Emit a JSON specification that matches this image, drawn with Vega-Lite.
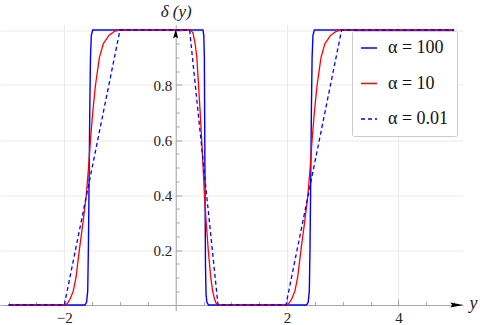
{
  "$schema": "https://vega.github.io/schema/vega-lite/v6.json",
  "autosize": {"type": "none"},
  "width": 463,
  "height": 286,
  "padding": {"left": 0, "top": 24.5, "right": 17, "bottom": 14.5},
  "background": "white",
  "config": {"view": {"stroke": null}, "font": "Liberation Serif, Times New Roman, serif"},
  "datasets": {
    "blue": [
      {"x": -3, "y": 0, "s": "α = 100"}, {"x": -1.63, "y": 0, "s": "α = 100"}, {"x": -1.6, "y": 0.01, "s": "α = 100"},
      {"x": -1.58, "y": 0.05, "s": "α = 100"}, {"x": -1.568, "y": 0.2, "s": "α = 100"}, {"x": -1.555, "y": 0.45, "s": "α = 100"},
      {"x": -1.542, "y": 0.72, "s": "α = 100"}, {"x": -1.53, "y": 0.9, "s": "α = 100"}, {"x": -1.515, "y": 0.98, "s": "α = 100"},
      {"x": -1.49, "y": 1, "s": "α = 100"}, {"x": 0.49, "y": 1, "s": "α = 100"}, {"x": 0.505, "y": 0.98, "s": "α = 100"},
      {"x": 0.515, "y": 0.9, "s": "α = 100"}, {"x": 0.525, "y": 0.5, "s": "α = 100"}, {"x": 0.535, "y": 0.15, "s": "α = 100"},
      {"x": 0.545, "y": 0.04, "s": "α = 100"}, {"x": 0.56, "y": 0.01, "s": "α = 100"}, {"x": 0.59, "y": 0, "s": "α = 100"},
      {"x": 2.35, "y": 0, "s": "α = 100"}, {"x": 2.38, "y": 0.01, "s": "α = 100"}, {"x": 2.4, "y": 0.05, "s": "α = 100"},
      {"x": 2.412, "y": 0.2, "s": "α = 100"}, {"x": 2.425, "y": 0.45, "s": "α = 100"}, {"x": 2.438, "y": 0.72, "s": "α = 100"},
      {"x": 2.45, "y": 0.9, "s": "α = 100"}, {"x": 2.465, "y": 0.98, "s": "α = 100"}, {"x": 2.49, "y": 1, "s": "α = 100"},
      {"x": 5, "y": 1, "s": "α = 100"}
    ],
    "red": [
      {"x": -3, "y": 0, "s": "α = 10"}, {"x": -2, "y": 0, "s": "α = 10"}, {"x": -1.95, "y": 0.005, "s": "α = 10"},
      {"x": -1.9, "y": 0.02, "s": "α = 10"}, {"x": -1.84, "y": 0.05, "s": "α = 10"}, {"x": -1.79, "y": 0.1, "s": "α = 10"},
      {"x": -1.73, "y": 0.2, "s": "α = 10"}, {"x": -1.665, "y": 0.3, "s": "α = 10"}, {"x": -1.605, "y": 0.4, "s": "α = 10"},
      {"x": -1.565, "y": 0.5, "s": "α = 10"}, {"x": -1.53, "y": 0.6, "s": "α = 10"}, {"x": -1.49, "y": 0.7, "s": "α = 10"},
      {"x": -1.44, "y": 0.8, "s": "α = 10"}, {"x": -1.37, "y": 0.9, "s": "α = 10"}, {"x": -1.3, "y": 0.95, "s": "α = 10"},
      {"x": -1.2, "y": 0.98, "s": "α = 10"}, {"x": -1.1, "y": 0.995, "s": "α = 10"}, {"x": -1.0, "y": 1, "s": "α = 10"},
      {"x": 0.26, "y": 1, "s": "α = 10"}, {"x": 0.31, "y": 0.99, "s": "α = 10"}, {"x": 0.35, "y": 0.95, "s": "α = 10"},
      {"x": 0.38, "y": 0.9, "s": "α = 10"}, {"x": 0.41, "y": 0.8, "s": "α = 10"}, {"x": 0.44, "y": 0.7, "s": "α = 10"},
      {"x": 0.467, "y": 0.6, "s": "α = 10"}, {"x": 0.492, "y": 0.5, "s": "α = 10"}, {"x": 0.517, "y": 0.4, "s": "α = 10"},
      {"x": 0.548, "y": 0.3, "s": "α = 10"}, {"x": 0.585, "y": 0.2, "s": "α = 10"}, {"x": 0.63, "y": 0.1, "s": "α = 10"},
      {"x": 0.665, "y": 0.05, "s": "α = 10"}, {"x": 0.7, "y": 0.02, "s": "α = 10"}, {"x": 0.73, "y": 0.005, "s": "α = 10"},
      {"x": 0.76, "y": 0, "s": "α = 10"}, {"x": 1.98, "y": 0, "s": "α = 10"}, {"x": 2.03, "y": 0.005, "s": "α = 10"},
      {"x": 2.08, "y": 0.02, "s": "α = 10"}, {"x": 2.14, "y": 0.05, "s": "α = 10"}, {"x": 2.19, "y": 0.1, "s": "α = 10"},
      {"x": 2.25, "y": 0.2, "s": "α = 10"}, {"x": 2.315, "y": 0.3, "s": "α = 10"}, {"x": 2.375, "y": 0.4, "s": "α = 10"},
      {"x": 2.415, "y": 0.5, "s": "α = 10"}, {"x": 2.45, "y": 0.6, "s": "α = 10"}, {"x": 2.49, "y": 0.7, "s": "α = 10"},
      {"x": 2.54, "y": 0.8, "s": "α = 10"}, {"x": 2.61, "y": 0.9, "s": "α = 10"}, {"x": 2.68, "y": 0.95, "s": "α = 10"},
      {"x": 2.78, "y": 0.98, "s": "α = 10"}, {"x": 2.88, "y": 0.995, "s": "α = 10"}, {"x": 2.98, "y": 1, "s": "α = 10"},
      {"x": 5, "y": 1, "s": "α = 10"}
    ],
    "dashed": [
      {"x": -3, "y": 0, "s": "α = 0.01"}, {"x": -2, "y": 0, "s": "α = 0.01"}, {"x": -1, "y": 1, "s": "α = 0.01"},
      {"x": 0.25, "y": 1, "s": "α = 0.01"}, {"x": 0.76, "y": 0, "s": "α = 0.01"}, {"x": 1.98, "y": 0, "s": "α = 0.01"},
      {"x": 2.98, "y": 1, "s": "α = 0.01"}, {"x": 5, "y": 1, "s": "α = 0.01"}
    ],
    "arrowY": [{"x": 0, "y": 0.979}],
    "arrowX": [{"x": 5.048, "y": 0}]
  },
  "resolve": {"axis": {"x": "independent", "y": "independent"}},
  "layer": [
    {
      "data": {"name": "blue"},
      "mark": {"type": "line", "strokeWidth": 1.4},
      "encoding": {
        "x": {"field": "x", "type": "quantitative",
          "scale": {"domain": [-3.155, 5.16], "nice": false, "zero": false},
          "axis": {"orient": "bottom", "values": [-2, 0, 2, 4], "grid": true, "gridColor": "#ebebeb", "gridWidth": 1,
            "domain": false, "ticks": false, "labels": false, "title": null}},
        "y": {"field": "y", "type": "quantitative",
          "scale": {"domain": [-0.02, 1.02], "nice": false, "zero": false},
          "axis": {"orient": "left", "values": [0.2, 0.4, 0.6, 0.8, 1.0], "grid": true, "gridColor": "#ebebeb", "gridWidth": 1,
            "domain": false, "ticks": false, "labels": false, "title": null}},
        "color": {"field": "s", "type": "nominal",
          "scale": {"domain": ["α = 100", "α = 10", "α = 0.01"], "range": ["#0000ff", "#ff0000", "#0000ff"]},
          "legend": {"title": null, "orient": "none", "legendX": 352, "legendY": 6.5, "symbolType": "stroke",
            "symbolStrokeWidth": 1.3, "symbolSize": 256, "labelFont": "Liberation Serif, Times New Roman, serif", "labelFontSize": 18,
            "labelColor": "#111111", "labelOffset": 10, "rowPadding": 17.5, "padding": 8, "fillColor": "white",
            "strokeColor": "#cccccc", "cornerRadius": 2, "symbolOpacity": 1}},
        "strokeDash": {"field": "s", "type": "nominal",
          "scale": {"domain": ["α = 100", "α = 10", "α = 0.01"], "range": [[1, 0], [1, 0], [4, 3]]},
          "legend": {"title": null, "orient": "none", "legendX": 352, "legendY": 6.5, "symbolType": "stroke",
            "symbolStrokeWidth": 1.3, "symbolSize": 256, "labelFont": "Liberation Serif, Times New Roman, serif", "labelFontSize": 18,
            "labelColor": "#111111", "labelOffset": 10, "rowPadding": 17.5, "padding": 8, "fillColor": "white",
            "strokeColor": "#cccccc", "cornerRadius": 2, "symbolOpacity": 1}}
      }
    },
    {
      "data": {"name": "red"},
      "mark": {"type": "line", "strokeWidth": 1.3},
      "encoding": {
        "x": {"field": "x", "type": "quantitative",
          "axis": {"orient": "bottom", "offset": -5.5, "values": [-2, 2, 4], "format": "d", "grid": false, "ticks": false,
            "domain": true, "domainColor": "#a6a6a6", "domainWidth": 1, "labelFont": "Liberation Serif, Times New Roman, serif", "labelFontSize": 15,
            "labelColor": "#222222", "labelPadding": 5, "labelFlush": false,
            "title": "y", "titleFont": "Liberation Serif, Times New Roman, serif", "titleFontStyle": "italic", "titleFontWeight": "normal",
            "titleFontSize": 18, "titleColor": "#222222", "titleX": 469, "titleY": 3, "titleAlign": "left", "titleBaseline": "alphabetic"}},
        "y": {"field": "y", "type": "quantitative",
          "axis": {"orient": "left", "offset": -175.7, "values": [0.2, 0.4, 0.6, 0.8], "format": ".1f", "grid": false, "ticks": false,
            "domain": true, "domainColor": "#a6a6a6", "domainWidth": 1, "labelFont": "Liberation Serif, Times New Roman, serif", "labelFontSize": 15,
            "labelColor": "#222222", "labelPadding": 4,
            "title": "δ (y)", "titleFont": "Liberation Serif, Times New Roman, serif", "titleFontStyle": "italic", "titleFontWeight": "normal",
            "titleFontSize": 17, "titleColor": "#222222", "titleAngle": 0, "titleX": 0, "titleY": -8, "titleAlign": "center", "titleBaseline": "alphabetic"}},
        "color": {"field": "s", "type": "nominal"},
        "strokeDash": {"field": "s", "type": "nominal"}
      }
    },
    {
      "data": {"name": "dashed"},
      "mark": {"type": "line", "strokeWidth": 1.3},
      "encoding": {
        "x": {"field": "x", "type": "quantitative",
          "axis": {"orient": "bottom", "offset": -5.5, "values": [-2, 2, 4], "grid": false, "ticks": true, "tickSize": -6,
            "tickColor": "#a6a6a6", "tickWidth": 1, "domain": false, "labels": false, "title": null}},
        "y": {"field": "y", "type": "quantitative",
          "axis": {"orient": "left", "offset": -175.7, "values": [0.2, 0.4, 0.6, 0.8, 1.0], "grid": false, "ticks": true, "tickSize": -6,
            "tickColor": "#a6a6a6", "tickWidth": 1, "domain": false, "labels": false, "title": null}},
        "color": {"field": "s", "type": "nominal"},
        "strokeDash": {"field": "s", "type": "nominal"}
      }
    },
    {
      "data": {"name": "arrowY"},
      "mark": {"type": "point", "shape": "M0,-1L0.4,0.4L0,0.15L-0.4,0.4Z", "filled": true, "color": "#000000", "opacity": 1, "size": 169, "strokeWidth": 0},
      "encoding": {
        "x": {"field": "x", "type": "quantitative",
          "axis": {"orient": "bottom", "offset": -5.5, "values": [-3, -2.5, -1.5, -1, -0.5, 0.5, 1, 1.5, 2.5, 3, 3.5, 4.5, 5],
            "grid": false, "ticks": true, "tickSize": -3.5, "tickColor": "#a6a6a6", "tickWidth": 1, "domain": false, "labels": false, "title": null}},
        "y": {"field": "y", "type": "quantitative",
          "axis": {"orient": "left", "offset": -175.7, "values": [0.05, 0.1, 0.15, 0.25, 0.3, 0.35, 0.45, 0.5, 0.55, 0.65, 0.7, 0.75, 0.85, 0.9, 0.95],
            "grid": false, "ticks": true, "tickSize": -3.5, "tickColor": "#a6a6a6", "tickWidth": 1, "domain": false, "labels": false, "title": null}}
      }
    },
    {
      "data": {"name": "arrowX"},
      "mark": {"type": "point", "shape": "M1,0L-1,0.4L-0.7,0L-1,-0.4Z", "filled": true, "color": "#000000", "opacity": 1, "size": 169, "strokeWidth": 0},
      "encoding": {
        "x": {"field": "x", "type": "quantitative", "axis": null},
        "y": {"field": "y", "type": "quantitative", "axis": null}
      }
    }
  ]
}
